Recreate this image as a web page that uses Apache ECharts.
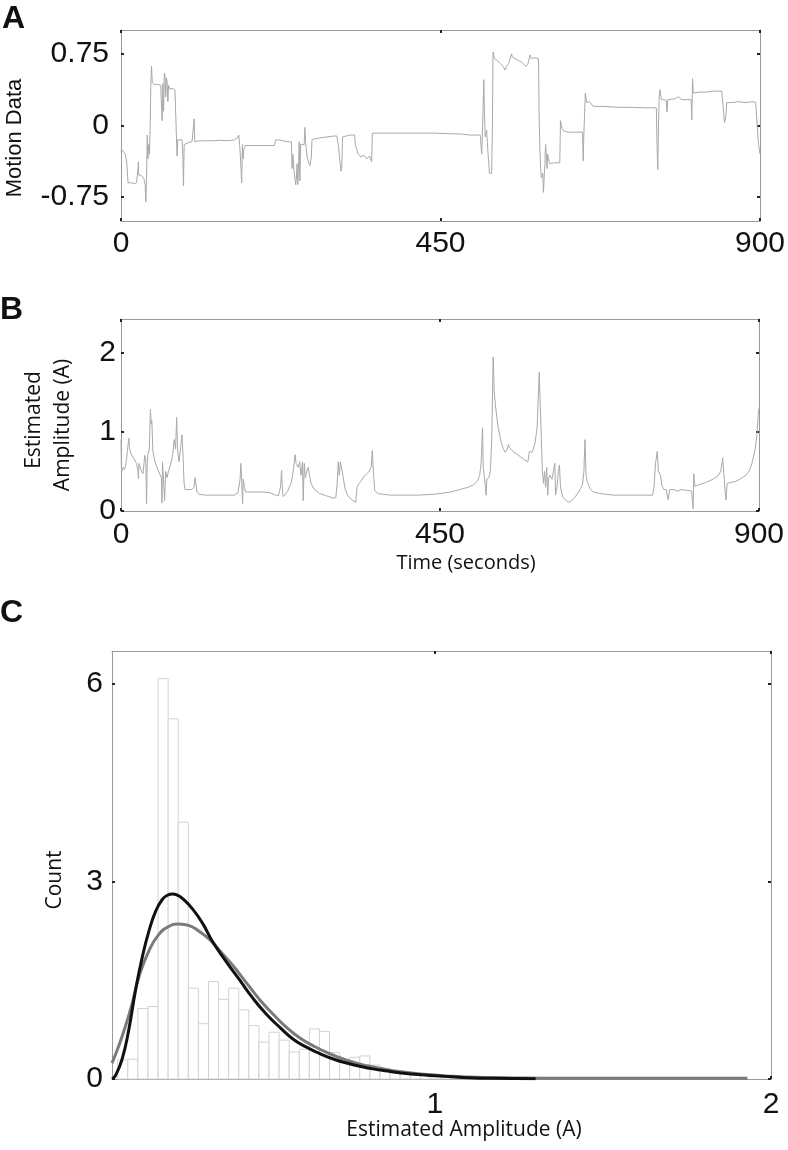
<!DOCTYPE html>
<html>
<head>
<meta charset="utf-8">
<script src="https://cdn.jsdelivr.net/npm/echarts@6/dist/echarts.min.js"></script>
<style>
html,body{margin:0;padding:0;background:#fff;}
#chart{width:788px;height:1150px;}
</style>
</head>
<body>
<div id="chart"></div>
<script>
// ---------- DATA ----------
// Panel A: motion data [time (s), value]
var motionData = [
[0,-0.28],[1,-0.25],[3,-0.27],[6,-0.3],[8,-0.38],[10,-0.6],[12,-0.62],[15,-0.6],[18,-0.61],[22,-0.6],[24,-0.45],[24.5,-0.38],[25,-0.52],[28,-0.52],[30,-0.5],[32,-0.55],[34,-0.62],[35,-0.8],[36,-0.55],[37,-0.1],[38,-0.35],[39,-0.2],[40,-0.3],[41,-0.05],[42,0.42],[43,0.62],[44,0.45],[47,0.43],[52,0.43],[56,0.42],[57,0.2],[58,0.05],[59,0.44],[60,0.15],[61,0.55],[62,0.52],[63,0.3],[64,0.5],[65,0.45],[66,0.25],[67,0.42],[69,0.38],[72,0.39],[76,0.37],[77,0.38],[78,-0.1],[79,-0.32],[80,-0.15],[82,-0.16],[86,-0.15],[87,-0.3],[88,-0.63],[89,-0.2],[90,-0.18],[95,-0.18],[100,-0.17],[102,-0.17],[103,0.07],[104,-0.17],[106,-0.18],[110,-0.16],
[120,-0.16],[130,-0.16],[140,-0.155],[150,-0.16],[160,-0.15],[164,-0.13],[166,-0.1],[167,-0.2],[168,-0.3],[169,-0.45],[170,-0.6],[171,-0.2],[172,-0.35],[173,-0.25],[175,-0.21],[190,-0.21],[200,-0.21],[210,-0.21],[216,-0.21],[218,-0.15],[222,-0.15],[224,-0.17],[235,-0.17],[240,-0.17],[241,-0.45],[242,-0.3],[244,-0.5],[246,-0.62],[247,-0.55],[248,-0.4],[249,-0.62],[250,-0.45],[251,-0.17],[252,-0.58],[253,-0.2],[255,-0.22],[258,-0.2],[259,-0.02],[260,-0.18],[262,-0.32],[264,-0.38],[266,-0.42],[268,-0.34],[269,-0.15],[272,-0.14],[280,-0.13],[290,-0.12],[300,-0.11],[304,-0.11],[306,-0.2],[308,-0.35],[310,-0.48],[311,-0.45],[312,-0.12],[314,-0.1],[322,-0.1],[329,-0.1],[330,-0.2],[332,-0.25],[334,-0.3],[336,-0.28],[338,-0.33],[342,-0.31],[346,-0.35],[350,-0.32],[352,-0.33],[353,-0.38],[354,-0.08],[360,-0.08],[380,-0.08],[400,-0.08],[420,-0.08],[440,-0.08],[460,-0.085],[480,-0.09],[491,-0.1],[500,-0.1],[506,-0.1],[508,-0.3],[509,-0.1],[510,0.2],[511,0.48],[512,0.1],[513,-0.12],[515,-0.05],[517,-0.3],[519,-0.5],[522,-0.5],[523,-0.1],[524,0.77],[526,0.7],[530,0.68],[534,0.65],[538,0.62],[541,0.58],[543,0.62],[546,0.65],[550,0.75],[551,0.72],[555,0.7],[560,0.68],[565,0.66],[570,0.62],[573,0.64],[576,0.74],[578,0.7],[582,0.71],[588,0.7],[589,0.06],[590,-0.25],[591,-0.45],[592,-0.55],[594,-0.5],[595,-0.7],[597,-0.4],[598,-0.2],[599,-0.3],[600,-0.45],[601,-0.3],[602,-0.35],[604,-0.4],[606,-0.38],[610,-0.39],[614,-0.39],[618,-0.39],[619,0.05],[621,-0.03],[624,-0.06],[630,-0.07],[640,-0.07],[650,-0.07],[651,-0.37],[652,-0.07],[654,0.34],[656,0.24],[660,0.25],[665,0.2],[680,0.2],[700,0.19],[720,0.19],[740,0.185],[754,0.185],[755,-0.2],[756,-0.46],[757,0.0],[758,0.3],[759,0.375],[761,0.27],[765,0.27],[768,0.26],[769,0.14],[770,0.27],[780,0.28],[785,0.3],[790,0.27],[800,0.27],[803,0.27],[804,0.06],[805,0.49],[806,0.34],[815,0.35],[825,0.35],[835,0.36],[846,0.36],[848,0.2],[850,0.03],[852,0.1],[853,0.24],[860,0.24],[870,0.25],[880,0.24],[890,0.25],[894,0.24],[896,0.0],[898,-0.2],[900,-0.3]
];
// Panel B: estimated amplitude [time (s), A]
var amplitudeData = [
[0,0.9],[0.5,0.55],[1,0.5],[3,0.55],[5,0.52],[7,0.6],[9,0.75],[11,0.92],[12,0.8],[14,0.72],[17,0.68],[20,0.63],[22,0.6],[24,0.5],[24.5,0.41],[25.5,0.6],[27,0.55],[29,0.5],[31,0.47],[32.5,0.6],[33.5,0.7],[35,0.65],[36,0.09],[37,0.6],[38,0.72],[40,0.78],[41.5,1.28],[42.5,1.1],[43.5,1.14],[45,0.75],[48,0.62],[52,0.52],[55,0.46],[57,0.42],[57.8,0.1],[58.5,0.62],[60,0.4],[61.5,0.13],[63,0.5],[65,0.42],[67,0.5],[69,0.48],[71,0.62],[73,0.72],[75,0.9],[77,0.78],[78.5,1.18],[80,0.75],[82,0.62],[84,0.8],[86,0.96],[87.5,0.7],[89,0.35],[90.5,0.27],[95,0.27],[100,0.27],[103,0.3],[104.5,0.42],[106,0.32],[107,0.25],[110,0.21],[120,0.2],[130,0.2],[140,0.2],[150,0.2],[160,0.2],[165,0.23],[168,0.4],[169,0.6],[170,0.45],[171.5,0.09],[172.5,0.4],[174,0.3],[176,0.24],[190,0.24],[200,0.24],[210,0.23],[218,0.2],[222,0.19],[225,0.3],[226.5,0.51],[228,0.22],[229,0.18],[235,0.25],[240,0.35],[243,0.5],[245.5,0.71],[247,0.6],[250,0.55],[252,0.62],[254,0.45],[256,0.62],[257,0.13],[258.5,0.6],[260,0.42],[262,0.5],[264,0.55],[266,0.45],[268,0.35],[272,0.28],[280,0.22],[290,0.19],[300,0.16],[303,0.17],[305,0.35],[306.5,0.62],[308,0.45],[309.5,0.62],[311,0.55],[313,0.45],[316,0.28],[320,0.19],[326,0.14],[331,0.11],[333,0.3],[336,0.35],[339,0.38],[342,0.43],[346,0.46],[350,0.5],[353,0.55],[354.5,0.76],[356,0.5],[358,0.26],[362,0.22],[370,0.21],[380,0.2],[400,0.2],[420,0.2],[440,0.21],[450,0.22],[465,0.24],[478,0.27],[490,0.3],[497,0.33],[503,0.38],[506,0.45],[508,0.6],[510,1.05],[511,0.55],[513,0.4],[515,0.2],[516,0.4],[519,0.42],[521,0.5],[523,0.9],[525,1.94],[526.5,1.5],[528,1.35],[532,1.05],[536,0.88],[539,0.79],[542,0.74],[545,0.78],[546.5,0.84],[548,0.8],[552,0.76],[558,0.72],[564,0.68],[570,0.64],[574,0.62],[576,0.75],[580,0.74],[584,0.85],[587,1.05],[590,1.75],[591.5,1.3],[593,0.9],[594.5,0.5],[596,0.35],[597.5,0.5],[599,0.3],[600.5,0.55],[602,0.2],[603,0.4],[605,0.45],[608,0.4],[610,0.42],[612,0.6],[613,0.2],[615,0.3],[617,0.5],[618.5,0.58],[620,0.3],[623,0.18],[627,0.14],[631,0.11],[636,0.13],[640,0.17],[644,0.22],[648,0.28],[651,0.33],[653,0.5],[654.5,0.9],[656,0.45],[658,0.36],[662,0.28],[666,0.24],[675,0.22],[685,0.21],[695,0.2],[720,0.2],[740,0.2],[750,0.2],[752,0.3],[754,0.6],[756.5,0.75],[758,0.5],[761,0.45],[763,0.32],[766,0.27],[769,0.27],[772,0.14],[774,0.27],[780,0.27],[785,0.25],[790,0.27],[800,0.26],[805,0.25],[807,0.03],[808,0.47],[809.5,0.31],[815,0.33],[825,0.36],[835,0.4],[842,0.44],[846,0.5],[848.8,0.67],[851,0.4],[852.5,0.22],[853.5,0.14],[855,0.35],[860,0.36],[866,0.37],[873,0.4],[880,0.44],[886,0.5],[890,0.6],[894,0.75],[897,0.95],[899,1.22],[900,1.3]
];
// Panel C: histogram bin edges and bar heights (counts)
var binEdges = [0.057,0.087,0.117,0.147,0.177,0.207,0.237,0.267,0.297,0.327,0.357,0.387,0.417,0.447,0.477,0.507,0.537,0.567,0.597,0.627,0.657,0.687,0.717,0.747,0.777,0.807,0.837,0.867,0.897,0.927,0.957,0.987,1.017,1.047,1.077,1.107,1.137,1.167,1.197];
var binCounts = [0.29,0.3,1.07,1.1,6.08,5.47,3.9,1.38,0.84,1.48,1.21,1.38,1.05,0.81,0.56,0.71,0.59,0.41,0.45,0.76,0.72,0.40,0.29,0.33,0.35,0.21,0.16,0.11,0.09,0.06,0.05,0.04,0.03,0.03,0.02,0.02,0.01,0.01];
// Panel C: fitted curves [amplitude, density]
var fitBlack = [[0.04,0.0],[0.05,0.05],[0.07,0.3],[0.09,0.75],[0.11,1.35],[0.13,1.85],[0.15,2.25],[0.17,2.55],[0.19,2.73],[0.205,2.79],[0.22,2.81],[0.235,2.79],[0.25,2.74],[0.28,2.58],[0.31,2.36],[0.34,2.08],[0.38,1.78],[0.42,1.5],[0.46,1.22],[0.5,0.98],[0.54,0.78],[0.58,0.6],[0.62,0.48],[0.66,0.38],[0.7,0.3],[0.74,0.24],[0.78,0.19],[0.82,0.15],[0.86,0.12],[0.9,0.09],[0.95,0.07],[1.0,0.05],[1.05,0.035],[1.1,0.02],[1.17,0.01],[1.3,0.005]];
var fitGray = [[0.04,0.24],[0.06,0.5],[0.08,0.8],[0.1,1.15],[0.12,1.55],[0.15,1.95],[0.18,2.2],[0.21,2.32],[0.24,2.355],[0.27,2.33],[0.3,2.24],[0.33,2.12],[0.36,1.95],[0.4,1.72],[0.44,1.46],[0.48,1.2],[0.52,0.98],[0.56,0.78],[0.6,0.62],[0.64,0.5],[0.68,0.4],[0.72,0.32],[0.76,0.25],[0.8,0.2],[0.85,0.15],[0.9,0.11],[0.95,0.08],[1.0,0.06],[1.05,0.04],[1.1,0.03],[1.2,0.02],[1.4,0.01],[1.6,0.01],[1.93,0.01]];
// Tick labels
var ticksTimeX = [0,450,900];
var ticksMotionY = [-0.75,0,0.75];
var ticksAmpY = [0,1,2];
var ticksCountY = [0,3,6];
var ticksHistX = [1,2];

// ---------- OPTION ----------
var labelFont = {fontFamily:'Liberation Sans, Arial, sans-serif', fontSize:30, color:'#111'};
var boxColor = '#9a9a9a';
function xAx(grid, min, max, ticks, pos, showLabel, margin){
  return {
    type:'value', gridIndex:grid, min:min, max:max, position:pos,
    axisLine:{show:true, onZero:false, lineStyle:{color:boxColor, width:1}},
    axisTick:{show:true, inside:true, length:3, customValues:ticks, lineStyle:{color:'#222', width:2}},
    axisLabel:Object.assign({show:showLabel, customValues:ticks, margin:margin}, labelFont),
    splitLine:{show:false}
  };
}
function yAx(grid, min, max, ticks, pos, showLabel, margin){
  return {
    type:'value', gridIndex:grid, min:min, max:max, position:pos,
    axisLine:{show:true, onZero:false, lineStyle:{color:boxColor, width:1}},
    axisTick:{show:true, inside:true, length:3, customValues:ticks, lineStyle:{color:'#222', width:2}},
    axisLabel:Object.assign({show:showLabel, customValues:ticks, margin:margin}, labelFont),
    splitLine:{show:false}
  };
}

var histData = binCounts.map(function(c,i){ return [binEdges[i], binEdges[i+1], c]; });

var titleFont = 'Open Sans, sans-serif';
var option = {
  animation:false,
  backgroundColor:'#fff',
  grid:[
    {left:121, top:30, width:639, height:191, outerBoundsMode:'none'},
    {left:121, top:319, width:638, height:192, outerBoundsMode:'none'},
    {left:112, top:651, width:659, height:428, outerBoundsMode:'none'}
  ],
  xAxis:[
    xAx(0, 0, 900, ticksTimeX, 'bottom', true, 8),
    xAx(0, 0, 900, ticksTimeX, 'top', false, 8),
    xAx(1, 0, 900, ticksTimeX, 'bottom', true, 9),
    xAx(1, 0, 900, ticksTimeX, 'top', false, 8),
    xAx(2, 0.04, 2, ticksHistX, 'bottom', true, 11),
    xAx(2, 0.04, 2, ticksHistX, 'top', false, 8)
  ],
  yAxis:[
    yAx(0, -1, 1, ticksMotionY, 'left', true, 12),
    yAx(0, -1, 1, ticksMotionY, 'right', false, 8),
    yAx(1, 0, 2.42, ticksAmpY, 'left', true, 5),
    yAx(1, 0, 2.42, ticksAmpY, 'right', false, 8),
    yAx(2, 0, 6.5, ticksCountY, 'left', true, 9),
    yAx(2, 0, 6.5, ticksCountY, 'right', false, 8)
  ],
  series:[
    {type:'line', name:'Motion Data', xAxisIndex:0, yAxisIndex:0, data:motionData, showSymbol:false, symbol:'none',
     lineStyle:{color:'#a9a9a9', width:1}},
    {type:'line', name:'Estimated Amplitude', xAxisIndex:2, yAxisIndex:2, data:amplitudeData, showSymbol:false, symbol:'none',
     lineStyle:{color:'#a9a9a9', width:1}},
    {type:'custom', name:'Histogram', xAxisIndex:4, yAxisIndex:4, data:histData,
     encode:{x:[0,1], y:2},
     renderItem:function(params, api){
       var p0 = api.coord([api.value(0), 0]);
       var p1 = api.coord([api.value(1), api.value(2)]);
       return {type:'rect', shape:{x:p0[0], y:p1[1], width:p1[0]-p0[0], height:p0[1]-p1[1]},
               style:{fill:'#fff', stroke:'#d2d2d2', lineWidth:1}};
     }},
    {type:'line', name:'Fit 2', xAxisIndex:4, yAxisIndex:4, data:fitGray, smooth:true, showSymbol:false, symbol:'none',
     lineStyle:{color:'#7a7a7a', width:3}, z:3},
    {type:'line', name:'Fit 1', xAxisIndex:4, yAxisIndex:4, data:fitBlack, smooth:true, showSymbol:false, symbol:'none',
     lineStyle:{color:'#111', width:3}, z:4}
  ],
  graphic:[
    {type:'text', left:2, top:3, style:{text:'A', font:'bold 32px Liberation Sans, Arial, sans-serif', fill:'#111'}},
    {type:'text', left:0, top:294, style:{text:'B', font:'bold 32px Liberation Sans, Arial, sans-serif', fill:'#111'}},
    {type:'text', left:0, top:597, style:{text:'C', font:'bold 32px Liberation Sans, Arial, sans-serif', fill:'#111'}},
    {type:'text', x:15, y:138, rotation:Math.PI/2, style:{text:'Motion Data', font:'22px Liberation Sans, Arial, sans-serif', fill:'#111', align:'center', verticalAlign:'middle'}},
    {type:'text', x:34, y:420, rotation:Math.PI/2, style:{text:'Estimated', font:'21px '+titleFont, fill:'#111', align:'center', verticalAlign:'middle'}},
    {type:'text', x:63, y:425, rotation:Math.PI/2, style:{text:'Amplitude (A)', font:'21px '+titleFont, fill:'#111', align:'center', verticalAlign:'middle'}},
    {type:'text', x:466, y:563, style:{text:'Time (seconds)', font:'20px '+titleFont, fill:'#111', align:'center', verticalAlign:'middle'}},
    {type:'text', x:55, y:880, rotation:Math.PI/2, style:{text:'Count', font:'21px '+titleFont, fill:'#111', align:'center', verticalAlign:'middle'}},
    {type:'text', x:464, y:1130, style:{text:'Estimated Amplitude (A)', font:'21px '+titleFont, fill:'#111', align:'center', verticalAlign:'middle'}}
  ]
};
var chart = echarts.init(document.getElementById('chart'), null, {renderer:'canvas'});
chart.setOption(option);
</script>
</body>
</html>
